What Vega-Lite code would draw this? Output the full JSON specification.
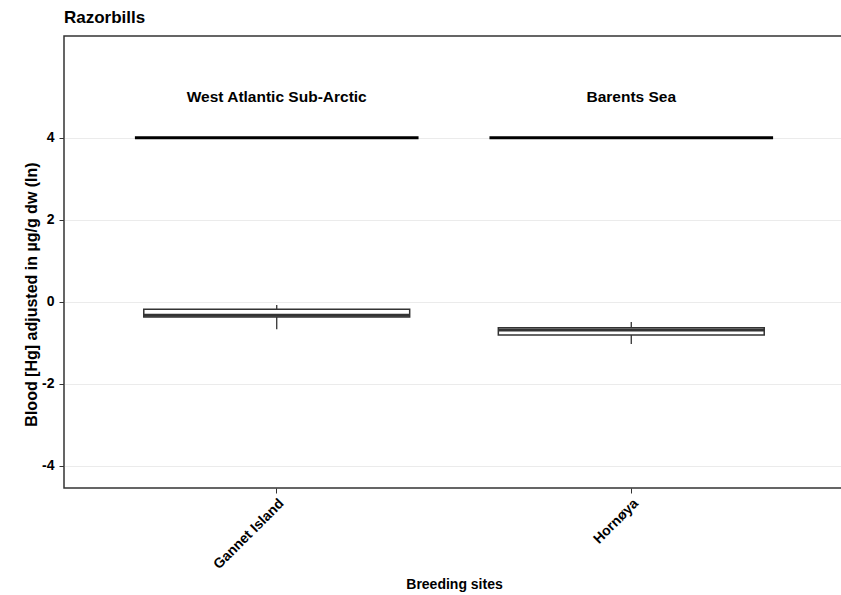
{
  "$schema": "https://vega.github.io/schema/vega-lite/v6.json",
  "autosize": {"type": "none"},
  "padding": {"left": 64, "top": 36, "right": 0, "bottom": 107},
  "width": 780,
  "height": 452,
  "background": "white",
  "title": {
    "text": "Razorbills",
    "anchor": "start",
    "frame": "group",
    "font": "Liberation Sans",
    "fontSize": 17,
    "fontWeight": "bold",
    "color": "black",
    "baseline": "alphabetic",
    "offset": -4
  },
  "config": {
    "font": "Liberation Sans",
    "view": {"stroke": "#333333", "strokeWidth": 1.5},
    "axis": {
      "labelFont": "Liberation Sans",
      "labelFontWeight": "bold",
      "labelColor": "black",
      "titleFont": "Liberation Sans",
      "titleFontWeight": "bold",
      "titleColor": "black",
      "tickColor": "#333333",
      "tickSize": 5,
      "domain": false
    }
  },
  "data": {
    "values": [
      {"site": "Gannet Island", "region": "West Atlantic Sub-Arctic", "lower": -0.67, "q1": -0.37, "median": -0.33, "q3": -0.18, "upper": -0.08, "bracket": 4, "labelY": 5},
      {"site": "Hornøya", "region": "Barents Sea", "lower": -1.03, "q1": -0.81, "median": -0.69, "q3": -0.63, "upper": -0.49, "bracket": 4, "labelY": 5}
    ]
  },
  "encoding": {
    "x": {
      "field": "site",
      "type": "nominal",
      "sort": null,
      "scale": {"paddingInner": 0.2, "paddingOuter": 0.2},
      "axis": {
        "title": "Breeding sites",
        "titleFontSize": 14,
        "titlePadding": 6,
        "labelAngle": -45,
        "labelFontSize": 14,
        "labelPadding": 3,
        "grid": false
      }
    }
  },
  "layer": [
    {
      "mark": {"type": "rule", "color": "#333333", "strokeWidth": 1.3},
      "encoding": {
        "y": {
          "field": "q3",
          "type": "quantitative",
          "scale": {"domain": [-4.54, 6.48], "nice": false, "zero": false},
          "axis": {
            "title": "Blood [Hg] adjusted in µg/g dw (ln)",
            "titleFontSize": 16,
            "titlePadding": 2,
            "titleY": 258,
            "values": [-4, -2, 0, 2, 4],
            "labelExpr": "'' + datum.value",
            "labelFontSize": 14,
            "labelPadding": 5,
            "grid": true,
            "gridColor": "#ebebeb",
            "gridWidth": 1.2
          }
        },
        "y2": {"field": "upper"}
      }
    },
    {
      "mark": {"type": "rule", "color": "#333333", "strokeWidth": 1.3},
      "encoding": {
        "y": {"field": "lower", "type": "quantitative"},
        "y2": {"field": "q1"}
      }
    },
    {
      "mark": {"type": "bar", "fill": "white", "stroke": "#333333", "strokeWidth": 1.5, "width": {"band": 0.9375}},
      "encoding": {
        "y": {"field": "q1", "type": "quantitative"},
        "y2": {"field": "q3"}
      }
    },
    {
      "mark": {"type": "bar", "fill": "#333333", "stroke": "#333333", "strokeWidth": 3, "width": {"band": 0.9375}},
      "encoding": {
        "y": {"field": "median", "type": "quantitative"},
        "y2": {"field": "median"}
      }
    },
    {
      "mark": {"type": "bar", "fill": "black", "stroke": "black", "strokeWidth": 3, "width": {"band": 1}},
      "encoding": {
        "y": {"field": "bracket", "type": "quantitative"},
        "y2": {"field": "bracket"}
      }
    },
    {
      "mark": {"type": "text", "font": "Liberation Sans", "fontWeight": "bold", "fontSize": 15.5, "color": "black", "baseline": "middle", "align": "center"},
      "encoding": {
        "y": {"field": "labelY", "type": "quantitative"},
        "text": {"field": "region"}
      }
    }
  ]
}
